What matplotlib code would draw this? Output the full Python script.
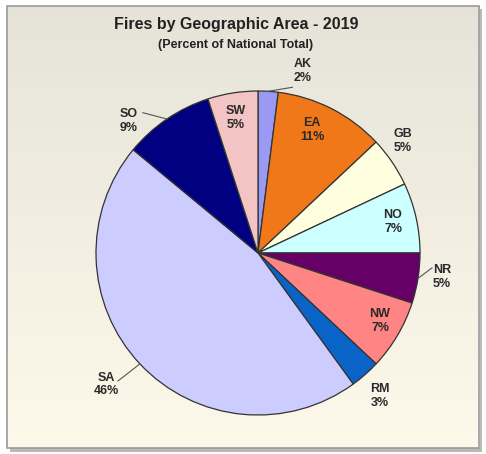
import numpy as np
import matplotlib
matplotlib.use("Agg")
import matplotlib.pyplot as plt
from matplotlib.patches import Rectangle

plt.rcParams["font.family"] = ["Liberation Sans", "DejaVu Sans"]

# data
regions = ["AK", "EA", "GB", "NO", "NR", "NW", "RM", "SA", "SO", "SW"]
percents = [2, 11, 5, 7, 5, 7, 3, 46, 9, 5]
colors = ["#9a9af5", "#f07818", "#ffffe0", "#ccffff", "#660066",
          "#ff8484", "#0a64c8", "#ccccff", "#000080", "#f2c4c4"]

# label layout: radius (in pie radii) and angle shift (deg) per slice
label_r = [1.157, 0.83, 1.13, 0.855, 1.146, 0.862, 1.16, 1.24, 1.14, 0.844]
label_shift = [-10.3, 3.3, 3.5, 0.3, 1.6, 1.5, -0.9, -2.4, 10.1, 0.3]
# leader line end, offset from label centre (pie radii)
leader = {"AK": (-0.065, -0.10), "SO": (0.086, 0.05),
          "SA": (0.074, 0.02), "NR": (-0.062, 0.056)}

W, H = 486, 454
CX, CY, RAD = 258, 253, 162


def main():
    fig = plt.figure(figsize=(W / 100, H / 100), dpi=100)
    fig.patch.set_facecolor("white")

    bg = fig.add_axes([0, 0, 1, 1])
    bg.set_xlim(0, W)
    bg.set_ylim(H, 0)
    bg.axis("off")

    # panel with shadow + vertical gradient
    bg.add_patch(Rectangle((10, 9), 472, 443, facecolor="#8c8c8c", edgecolor="none", alpha=0.6))
    top = np.array([0.90, 0.89, 0.85])
    bot = np.array([0.995, 0.975, 0.915])
    t = np.linspace(0, 1, 256)[:, None]
    grad = (top * (1 - t) + bot * t)[:, None, :]
    bg.imshow(grad, extent=(7, 479, 448, 6), aspect="auto", zorder=1)
    bg.add_patch(Rectangle((7, 6), 472, 442, facecolor="none", edgecolor="#9a9a9a", lw=1.2, zorder=2))

    bg.text(236, 25, "Fires by Geographic Area - 2019", ha="center", va="center",
            fontsize=11.5, fontweight="bold", color="#222222", zorder=3)
    bg.text(236, 45, "(Percent of National Total)", ha="center", va="center",
            fontsize=9, fontweight="bold", color="#222222", zorder=3)

    half = 200
    ax = fig.add_axes([(CX - half) / W, (H - CY - half) / H, 2 * half / W, 2 * half / H])
    ax.patch.set_visible(False)
    wedges, _ = ax.pie(percents, colors=colors, startangle=90, counterclock=False,
                       wedgeprops=dict(edgecolor="#333333", linewidth=0.9))
    lim = half / RAD
    ax.set_xlim(-lim, lim)
    ax.set_ylim(-lim, lim)
    ax.axis("off")

    for w, name, pct, r, sh in zip(wedges, regions, percents, label_r, label_shift):
        mid = (w.theta1 + w.theta2) / 2
        a = np.deg2rad(mid + sh)
        x, y = r * np.cos(a), r * np.sin(a)
        ax.text(x, y, f"{name}\n{pct}%", ha="center", va="center", fontsize=9,
                fontweight="bold", color="#2a2a2a", linespacing=1.15)
        if name in leader:
            e = np.deg2rad(mid)
            ox, oy = leader[name]
            ax.plot([np.cos(e), x + ox], [np.sin(e), y + oy], color="#555555", lw=0.8)

    fig.savefig("out.png", dpi=100)


if __name__ == "__main__":
    main()
